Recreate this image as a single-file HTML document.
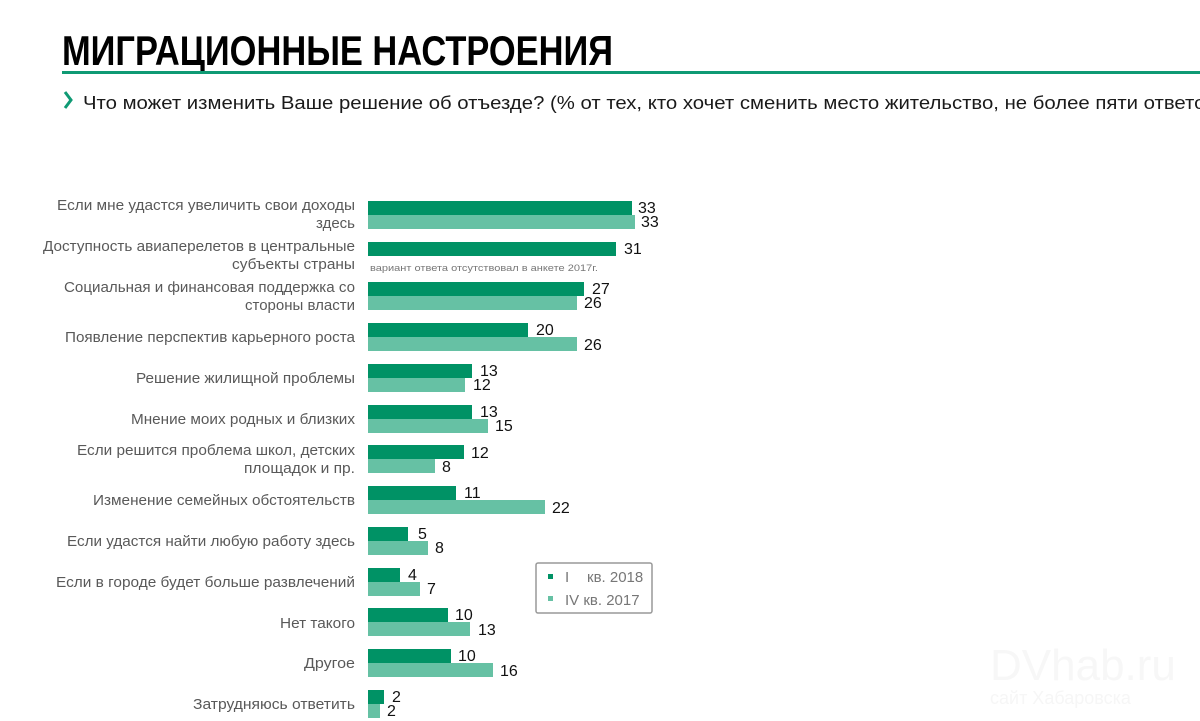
<!DOCTYPE html>
<html><head><meta charset="utf-8"><style>
html,body{margin:0;padding:0;background:#fff;width:1200px;height:721px;overflow:hidden}
svg{display:block}
text{font-family:"Liberation Sans Narrow","Liberation Sans",sans-serif}
.l{font-size:15px;fill:#595959;text-anchor:end}
.v{font-size:16px;fill:#111}
</style></head><body>
<svg width="1200" height="721" viewBox="0 0 1200 721" xmlns="http://www.w3.org/2000/svg">
<text x="62" y="65" font-size="42" font-weight="bold" fill="#000" style="font-family:'Liberation Sans',sans-serif" textLength="551" lengthAdjust="spacingAndGlyphs">МИГРАЦИОННЫЕ НАСТРОЕНИЯ</text>
<rect x="62" y="71" width="1138" height="3" fill="#0f9a74"/>
<path d="M65 92 L71 100 L65 108" stroke="#0f9a74" stroke-width="3" fill="none"/>
<text x="83" y="109" font-size="18" fill="#1a1a1a" textLength="1140" lengthAdjust="spacingAndGlyphs">Что может изменить Ваше решение об отъезде? (% от тех, кто хочет сменить место жительство, не более пяти ответов)</text>

<g id="labels">
<text class="l" x="355" y="210" textLength="298" lengthAdjust="spacingAndGlyphs">Если мне удастся увеличить свои доходы</text>
<text class="l" x="355" y="228">здесь</text>
<text class="l" x="355" y="251" textLength="312" lengthAdjust="spacingAndGlyphs">Доступность авиаперелетов в центральные</text>
<text class="l" x="355" y="269" textLength="123" lengthAdjust="spacingAndGlyphs">субъекты страны</text>
<text class="l" x="355" y="292" textLength="291" lengthAdjust="spacingAndGlyphs">Социальная и финансовая поддержка со</text>
<text class="l" x="355" y="310" textLength="110" lengthAdjust="spacingAndGlyphs">стороны власти</text>
<text class="l" x="355" y="342" textLength="290" lengthAdjust="spacingAndGlyphs">Появление перспектив карьерного роста</text>
<text class="l" x="355" y="383" textLength="219" lengthAdjust="spacingAndGlyphs">Решение жилищной проблемы</text>
<text class="l" x="355" y="424" textLength="224" lengthAdjust="spacingAndGlyphs">Мнение моих родных и близких</text>
<text class="l" x="355" y="455" textLength="278" lengthAdjust="spacingAndGlyphs">Если решится проблема школ, детских</text>
<text class="l" x="355" y="473" textLength="111" lengthAdjust="spacingAndGlyphs">площадок и пр.</text>
<text class="l" x="355" y="505" textLength="262" lengthAdjust="spacingAndGlyphs">Изменение семейных обстоятельств</text>
<text class="l" x="355" y="546" textLength="288" lengthAdjust="spacingAndGlyphs">Если удастся найти любую работу здесь</text>
<text class="l" x="355" y="587" textLength="299" lengthAdjust="spacingAndGlyphs">Если в городе будет больше развлечений</text>
<text class="l" x="355" y="628" textLength="75" lengthAdjust="spacingAndGlyphs">Нет такого</text>
<text class="l" x="355" y="668" textLength="51" lengthAdjust="spacingAndGlyphs">Другое</text>
<text class="l" x="355" y="709" textLength="162" lengthAdjust="spacingAndGlyphs">Затрудняюсь ответить</text>
</g>

<g fill="#009265">
<rect x="368" y="201" width="264" height="14"/>
<rect x="368" y="242" width="248" height="14"/>
<rect x="368" y="282" width="216" height="14"/>
<rect x="368" y="323" width="160" height="14"/>
<rect x="368" y="364" width="104" height="14"/>
<rect x="368" y="405" width="104" height="14"/>
<rect x="368" y="445" width="96" height="14"/>
<rect x="368" y="486" width="88" height="14"/>
<rect x="368" y="527" width="40" height="14"/>
<rect x="368" y="568" width="32" height="14"/>
<rect x="368" y="608" width="80" height="14"/>
<rect x="368" y="649" width="83" height="14"/>
<rect x="368" y="690" width="16" height="14"/>
</g>
<g fill="#66c1a4">
<rect x="368" y="215" width="267" height="14"/>
<rect x="368" y="296" width="209" height="14"/>
<rect x="368" y="337" width="209" height="14"/>
<rect x="368" y="378" width="97" height="14"/>
<rect x="368" y="419" width="120" height="14"/>
<rect x="368" y="459" width="67" height="14"/>
<rect x="368" y="500" width="177" height="14"/>
<rect x="368" y="541" width="60" height="14"/>
<rect x="368" y="582" width="52" height="14"/>
<rect x="368" y="622" width="102" height="14"/>
<rect x="368" y="663" width="125" height="14"/>
<rect x="368" y="704" width="12" height="14"/>
</g>
<g>
<text class="v" x="638" y="213">33</text><text class="v" x="641" y="227">33</text>
<text class="v" x="624" y="254">31</text>
<text x="370" y="271" font-size="9.5" fill="#777" textLength="228" lengthAdjust="spacingAndGlyphs">вариант ответа отсутствовал в анкете 2017г.</text>
<text class="v" x="592" y="294">27</text><text class="v" x="584" y="308">26</text>
<text class="v" x="536" y="335">20</text><text class="v" x="584" y="350">26</text>
<text class="v" x="480" y="376">13</text><text class="v" x="473" y="390">12</text>
<text class="v" x="480" y="417">13</text><text class="v" x="495" y="431">15</text>
<text class="v" x="471" y="458">12</text><text class="v" x="442" y="472">8</text>
<text class="v" x="464" y="498">11</text><text class="v" x="552" y="513">22</text>
<text class="v" x="418" y="539">5</text><text class="v" x="435" y="553">8</text>
<text class="v" x="408" y="580">4</text><text class="v" x="427" y="594">7</text>
<text class="v" x="455" y="620">10</text><text class="v" x="478" y="635">13</text>
<text class="v" x="458" y="661">10</text><text class="v" x="500" y="676">16</text>
<text class="v" x="392" y="702">2</text><text class="v" x="387" y="716">2</text>
</g>

<rect x="536" y="563" width="116" height="50" fill="#fff" stroke="#999" stroke-width="1.5" rx="2"/>
<rect x="548" y="574" width="5" height="5" fill="#009265"/>
<rect x="548" y="596" width="5" height="5" fill="#66c1a4"/>
<text x="565" y="582" font-size="15" fill="#777">I</text>
<text x="587" y="582" font-size="15" fill="#777">кв. 2018</text>
<text x="565" y="605" font-size="15" fill="#777">IV кв. 2017</text>

<text x="990" y="680" font-size="44" fill="#f7f7f7">DVhab.ru</text>
<text x="990" y="704" font-size="18" fill="#f6f6f6">сайт Хабаровска</text>
</svg>
</body></html>
